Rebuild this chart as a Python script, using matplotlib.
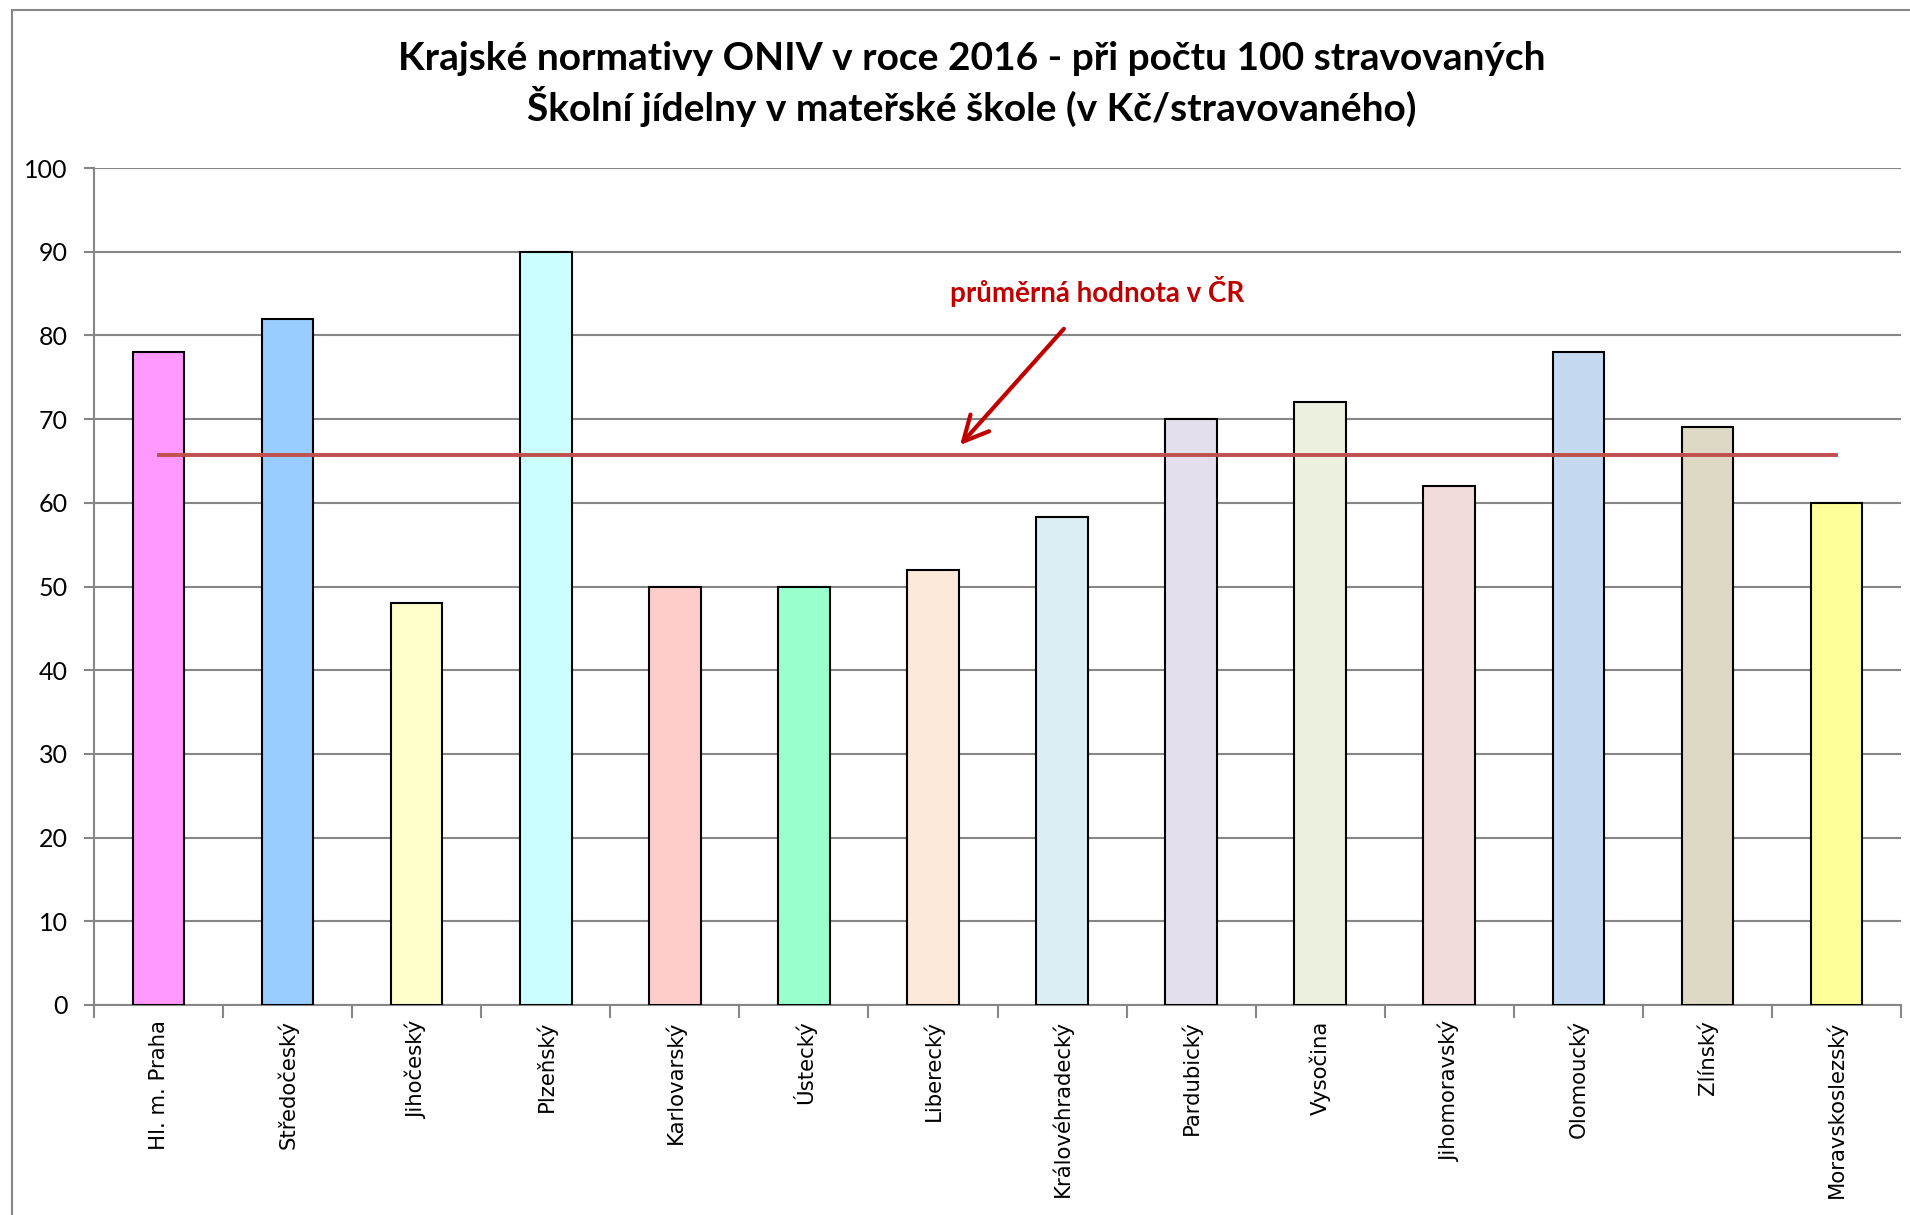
import matplotlib
matplotlib.use("Agg")
import matplotlib.pyplot as plt
from matplotlib.patches import Rectangle
import numpy as np

regions = ["Hl. m. Praha", "Středočeský", "Jihočeský", "Plzeňský", "Karlovarský",
           "Ústecký", "Liberecký", "Královéhradecký", "Pardubický", "Vysočina",
           "Jihomoravský", "Olomoucký", "Zlínský", "Moravskoslezský"]
values = [78, 82, 48, 90, 50, 50, 52, 58.3, 70, 72, 62, 78, 69, 60]
bar_colors = ["#FF99FF", "#99CCFF", "#FFFFCC", "#CCFFFF", "#FFCCCC", "#99FFCC",
              "#FDE9D9", "#DAEEF3", "#E4DFEC", "#EBF1DE", "#F2DCDB", "#C5D9F1",
              "#DDD9C4", "#FFFF99"]
average = 65.7

title = ("Krajské normativy ONIV v roce 2016 - při počtu 100 stravovaných\n"
         "Školní jídelny v mateřské škole (v Kč/stravovaného)")

fig = plt.figure(figsize=(19.1, 12.15), dpi=100)
fig.patches.append(Rectangle((12 / 1910, -0.1), 1.2, (1215 - 10) / 1215 + 0.1,
                             transform=fig.transFigure, fill=False,
                             edgecolor="#868686", linewidth=1.5))

ax = fig.add_axes([94 / 1910, 210 / 1215, 1807 / 1910, 837 / 1215])
x = np.arange(len(regions))

ax.bar(x, values, width=0.4, color=bar_colors, edgecolor="black", linewidth=1.5, zorder=3)
ax.plot([x[0], x[-1]], [average, average], color="#C0504D", linewidth=2.8, zorder=4)

ax.set_xlim(-0.5, len(regions) - 0.5)
ax.set_ylim(0, 100)
ax.set_yticks(range(0, 101, 10))
ax.yaxis.grid(True, color="#868686", linewidth=1.5)
ax.set_axisbelow(True)

for s in ["top", "right"]:
    ax.spines[s].set_visible(False)
for s in ["left", "bottom"]:
    ax.spines[s].set_color("#868686")
    ax.spines[s].set_linewidth(1.5)

ax.set_xticks(np.arange(-0.5, len(regions), 1.0))
ax.set_xticklabels([])
ax.set_xticks(x, minor=True)
ax.set_xticklabels(regions, minor=True, rotation=90, fontsize=15.3,
                   family="DejaVu Sans", va="top")
ax.tick_params(axis="x", which="major", length=9, width=1.5, color="#868686", direction="out")
ax.tick_params(axis="x", which="minor", length=0, pad=11)
ax.tick_params(axis="y", length=7, width=1.5, color="#868686", pad=12, labelsize=18)
for lbl in ax.get_yticklabels():
    lbl.set_family("Lato")

ax.annotate("průměrná hodnota v ČR", xy=(6.21, 66.9), xytext=(7.27, 85.2),
            ha="center", va="center", fontsize=20, fontweight="bold",
            color="#C00000", family="Lato",
            arrowprops=dict(arrowstyle="->,head_length=0.9,head_width=0.45",
                            color="#C00000", linewidth=3,
                            shrinkA=18, shrinkB=0))

fig.text(972 / 1910, 1 - 84 / 1215, title, ha="center", va="center",
         fontsize=28, fontweight="bold", family="Lato", linespacing=1.3)

fig.savefig("out.png", dpi=100)
